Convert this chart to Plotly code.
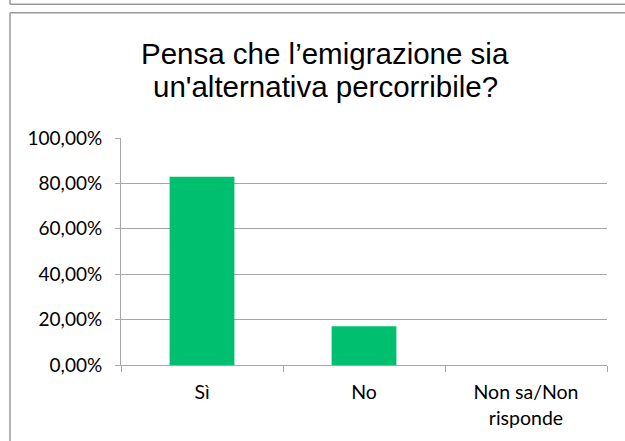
import plotly.graph_objects as go

categories = ["Sì", "No", "Non sa/Non<br>risponde"]
values = [0.829, 0.171, 0.0]
y_ticks = [0, 0.2, 0.4, 0.6, 0.8, 1.0]
title_lines = ["Pensa che l’emigrazione sia", "un'alternativa percorribile?"]

W, H = 625, 441
L, R, T, B = 121, 607, 138, 368


def px(x):
    return (x - L) / (R - L)


def py(y):
    return (B - y) / (B - T)


grid = "#A6A6A6"
frame = "#9A9A9A"

fig = go.Figure(
    go.Bar(
        x=categories,
        y=values,
        marker=dict(color="#00C06F", line=dict(width=0)),
        width=0.4,
        hoverinfo="skip",
    )
)

shapes = [
    # previous chart's frame bottom
    dict(type="line", xref="paper", yref="paper", x0=px(10), x1=px(640), y0=py(2.5), y1=py(2.5),
         line=dict(color=frame, width=1.5)),
    dict(type="line", xref="paper", yref="paper", x0=px(10), x1=px(10), y0=py(-5), y1=py(2.5),
         line=dict(color=frame, width=1.5)),
    # this chart's frame
    dict(type="line", xref="paper", yref="paper", x0=px(10), x1=px(640), y0=py(11), y1=py(11),
         line=dict(color=frame, width=1.5)),
    dict(type="line", xref="paper", yref="paper", x0=px(10), x1=px(10), y0=py(11), y1=py(450),
         line=dict(color=frame, width=1.5)),
]

annotations = [
    dict(text=title_lines[0], xref="paper", yref="paper", x=px(325), y=py(52),
         xanchor="center", yanchor="middle", showarrow=False,
         font=dict(family="Liberation Sans, Arial", size=29.5, color="#000000")),
    dict(text=title_lines[1], xref="paper", yref="paper", x=px(325), y=py(86),
         xanchor="center", yanchor="middle", showarrow=False,
         font=dict(family="Liberation Sans, Arial", size=29.5, color="#000000")),
]

fig.update_layout(
    width=W,
    height=H,
    margin=dict(l=L, r=W - R, t=T, b=H - B, pad=0),
    paper_bgcolor="white",
    plot_bgcolor="white",
    separators=",.",
    showlegend=False,
    shapes=shapes,
    annotations=annotations,
    font=dict(family="Lato, Carlito, Calibri", size=18, color="#000000"),
    xaxis=dict(
        type="category",
        range=[-0.5, 2.5],
        tickson="boundaries",
        ticks="outside",
        ticklen=6,
        tickcolor=grid,
        tickwidth=1,
        showline=True,
        linecolor=grid,
        linewidth=1,
        showgrid=False,
        tickfont=dict(size=19.5),
        ticklabelstandoff=10,
        fixedrange=True,
    ),
    yaxis=dict(
        range=[0, 1.0],
        tickvals=y_ticks,
        tickformat=".2%",
        ticks="outside",
        ticklen=5,
        tickcolor=grid,
        tickwidth=1,
        showline=True,
        linecolor=grid,
        linewidth=1,
        showgrid=True,
        gridcolor=grid,
        gridwidth=1,
        zeroline=False,
        tickfont=dict(size=19),
        ticklabelstandoff=9,
        fixedrange=True,
    ),
)

fig.write_html("out.html", config={"displayModeBar": False})
